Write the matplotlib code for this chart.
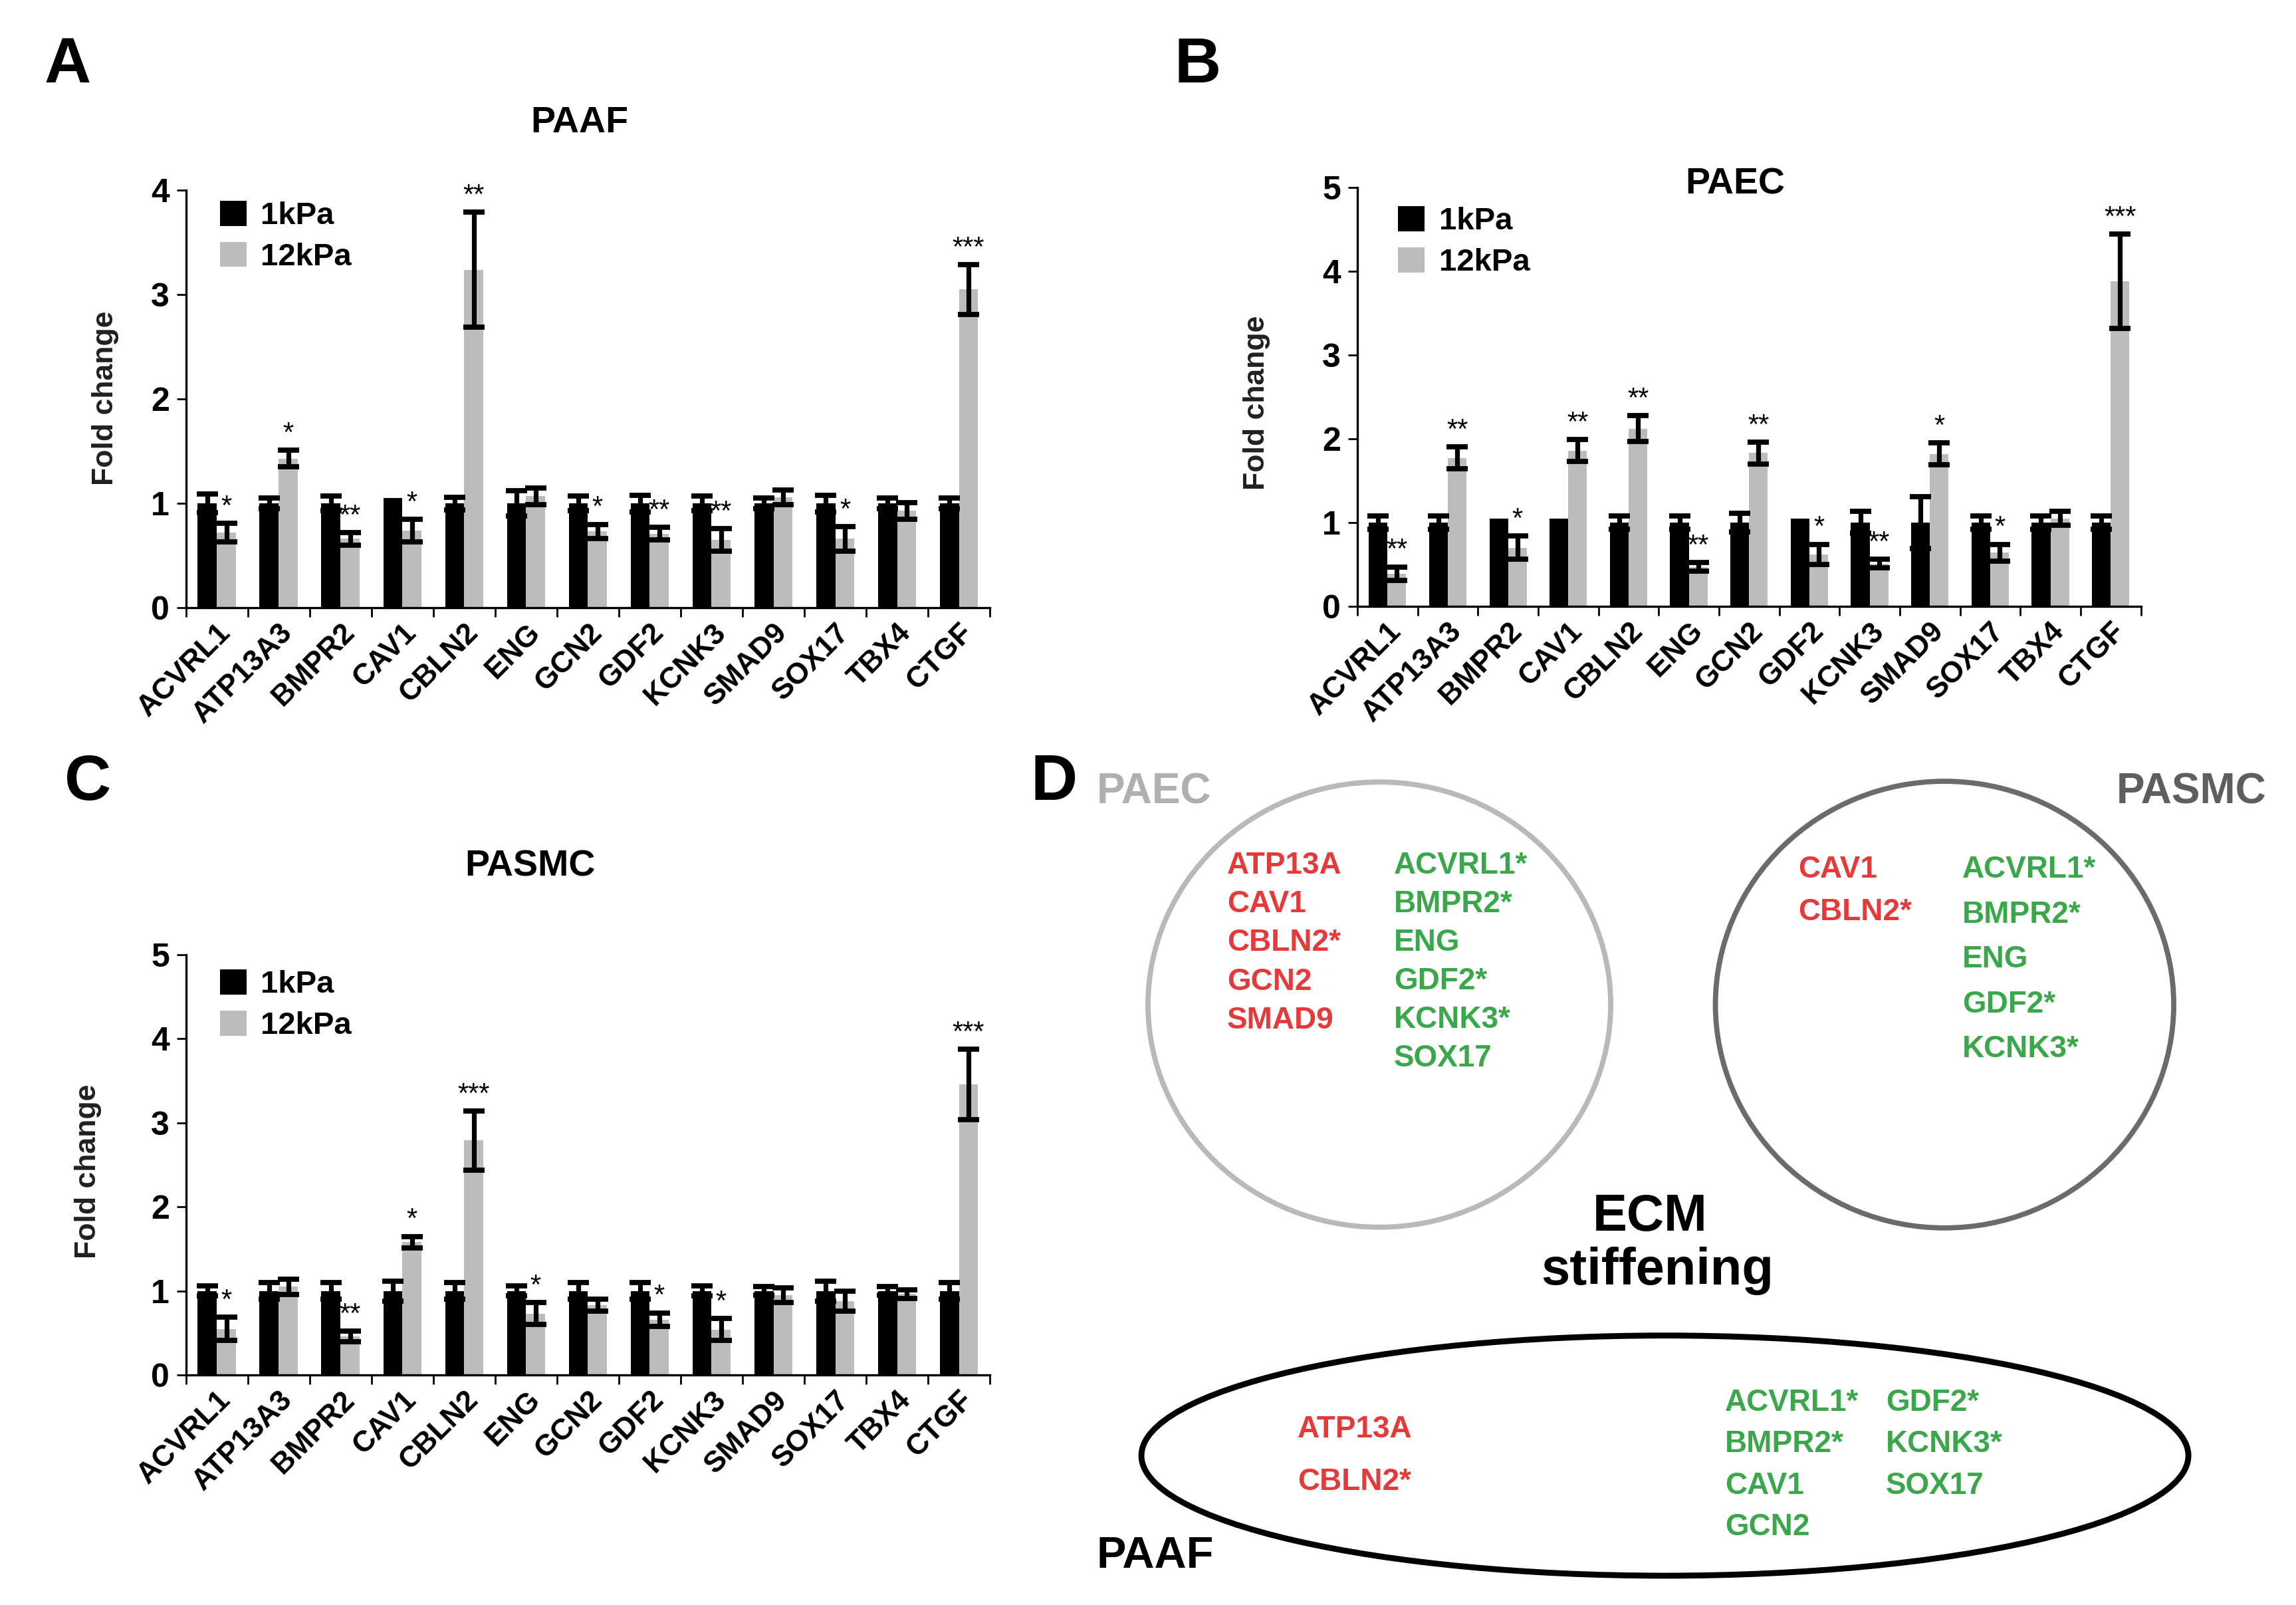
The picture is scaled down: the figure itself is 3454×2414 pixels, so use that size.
import numpy as np
import matplotlib
matplotlib.use('Agg')
import matplotlib.pyplot as plt
from matplotlib.patches import Ellipse, Patch

# ---------------- data ----------------
genes = ['ACVRL1', 'ATP13A3', 'BMPR2', 'CAV1', 'CBLN2', 'ENG', 'GCN2',
         'GDF2', 'KCNK3', 'SMAD9', 'SOX17', 'TBX4', 'CTGF']
series_names = ['1kPa', '12kPa']

paaf_1k = [1.0, 1.0, 1.0, 1.05, 1.0, 1.0, 1.0, 1.0, 1.0, 1.0, 1.0, 1.0, 1.0]
paaf_1k_err = [0.09, 0.05, 0.07, 0.0, 0.06, 0.12, 0.07, 0.08, 0.07, 0.05, 0.08, 0.05, 0.05]
paaf_12k = [0.72, 1.43, 0.66, 0.74, 3.24, 1.07, 0.73, 0.71, 0.65, 1.06, 0.66, 0.93, 3.05]
paaf_12k_err = [0.09, 0.08, 0.06, 0.11, 0.55, 0.08, 0.07, 0.06, 0.11, 0.07, 0.12, 0.08, 0.24]
paaf_sig = ['*', '*', '**', '*', '**', '', '*', '**', '**', '', '*', '', '***']

paec_1k = [1.0, 1.0, 1.05, 1.05, 1.0, 1.0, 1.0, 1.05, 1.0, 1.0, 1.0, 1.0, 1.0]
paec_1k_err = [0.08, 0.08, 0.0, 0.0, 0.08, 0.08, 0.11, 0.0, 0.13, 0.31, 0.08, 0.08, 0.08]
paec_12k = [0.39, 1.77, 0.70, 1.86, 2.12, 0.47, 1.83, 0.62, 0.51, 1.82, 0.64, 1.05, 3.88]
paec_12k_err = [0.08, 0.13, 0.14, 0.13, 0.155, 0.05, 0.13, 0.12, 0.05, 0.13, 0.10, 0.085, 0.56]
paec_sig = ['**', '**', '*', '**', '**', '**', '**', '*', '**', '*', '*', '', '***']

pasmc_1k = [1.0, 1.0, 1.0, 1.0, 1.0, 1.0, 1.0, 1.0, 1.0, 1.0, 1.0, 1.0, 1.0]
pasmc_1k_err = [0.06, 0.10, 0.10, 0.12, 0.10, 0.06, 0.10, 0.10, 0.06, 0.05, 0.12, 0.05, 0.10]
pasmc_12k = [0.55, 1.05, 0.46, 1.58, 2.79, 0.73, 0.83, 0.66, 0.54, 0.95, 0.88, 0.965, 3.46]
pasmc_12k_err = [0.14, 0.09, 0.065, 0.07, 0.35, 0.13, 0.07, 0.08, 0.13, 0.09, 0.12, 0.05, 0.42]
pasmc_sig = ['*', '', '**', '*', '***', '*', '', '*', '*', '', '', '', '***']

# panel D gene lists
paec_up = ['ATP13A', 'CAV1', 'CBLN2*', 'GCN2', 'SMAD9']
paec_down = ['ACVRL1*', 'BMPR2*', 'ENG', 'GDF2*', 'KCNK3*', 'SOX17']
pasmc_up = ['CAV1', 'CBLN2*']
pasmc_down = ['ACVRL1*', 'BMPR2*', 'ENG', 'GDF2*', 'KCNK3*']
paaf_up = ['ATP13A', 'CBLN2*']
paaf_down_a = ['ACVRL1*', 'BMPR2*', 'CAV1', 'GCN2']
paaf_down_b = ['GDF2*', 'KCNK3*', 'SOX17']

# ---------------- style ----------------
W, H, DPI = 3454, 2414, 200
SANS = ['Liberation Sans', 'DejaVu Sans']
NARROW = ['Liberation Sans Narrow', 'Liberation Sans', 'DejaVu Sans']
plt.rcParams['font.family'] = SANS
C_DARK = '#000000'
C_LIGHT = '#bcbcbc'
C_RED = '#e53a3a'
C_GREEN = '#3aa84a'

fig = plt.figure(figsize=(W / DPI, H / DPI), dpi=DPI)
RW, RH = 1568.0, 1096.0  # reference layout frame


def rect(left, top, right, bottom):
    return [left / RW, 1 - bottom / RH, (right - left) / RW, (bottom - top) / RH]


def bar_panel(r, ymax, v1, e1, v2, e2, sig, leg_anchor):
    ax = fig.add_axes(r)
    x = np.arange(len(genes))
    w = 0.31
    v1 = np.asarray(v1); e1 = np.asarray(e1)
    v2 = np.asarray(v2); e2 = np.asarray(e2)
    ax.bar(x - w / 2, v1, w, color=C_DARK, zorder=2)
    ax.bar(x + w / 2, v2, w, color=C_LIGHT, zorder=2)
    m1 = e1 > 0
    ax.errorbar((x - w / 2)[m1], v1[m1], yerr=e1[m1], fmt='none', ecolor='black',
                elinewidth=2.6, capsize=5.6, capthick=2.8, zorder=3)
    ax.errorbar(x + w / 2, v2, yerr=e2, fmt='none', ecolor='black',
                elinewidth=2.6, capsize=5.6, capthick=2.8, zorder=3)
    for xi, top, s in zip(x, v2 + e2, sig):
        if s:
            ax.annotate(s, (xi + w / 2, top), xytext=(0, 1.5), textcoords='offset points',
                        ha='center', va='bottom', fontsize=15, family=SANS, zorder=4)
    ax.set_xlim(-0.5, len(genes) - 0.5)
    ax.set_ylim(0, ymax)
    ax.set_yticks(np.arange(0, ymax + 1, 1))
    ax.set_yticklabels([str(t) for t in range(0, ymax + 1)], fontsize=18,
                       fontweight='bold', family=NARROW)
    ax.set_xticks(x)
    ax.set_xticklabels(genes, rotation=45, ha='right', va='top', rotation_mode='anchor',
                       fontsize=16, fontweight='bold', family=SANS)
    ax.set_xticks(np.arange(-0.5, len(genes), 1), minor=True)
    ax.tick_params(axis='x', which='major', length=0, pad=6)
    ax.tick_params(axis='x', which='minor', length=5, width=1, direction='out')
    ax.tick_params(axis='y', length=5, width=1, direction='out', pad=4)
    for sp in ['top', 'right']:
        ax.spines[sp].set_visible(False)
    for sp in ['left', 'bottom']:
        ax.spines[sp].set_linewidth(1.2)
    handles = [Patch(facecolor=C_DARK), Patch(facecolor=C_LIGHT)]
    ax.legend(handles, series_names, loc='upper left', bbox_to_anchor=leg_anchor,
              frameon=False, borderpad=0, borderaxespad=0, handlelength=0.85,
              handleheight=0.85, handletextpad=0.45, labelspacing=0.35,
              prop={'family': NARROW, 'weight': 'bold', 'size': 17})
    ax.patch.set_alpha(0)
    return ax


bar_panel(rect(127, 130, 676, 415), 4, paaf_1k, paaf_1k_err, paaf_12k, paaf_12k_err,
          paaf_sig, (0.042, 0.975))
bar_panel(rect(927, 128, 1462, 414), 5, paec_1k, paec_1k_err, paec_12k, paec_12k_err,
          paec_sig, (0.052, 0.955))
bar_panel(rect(127, 652, 676, 939), 5, pasmc_1k, pasmc_1k_err, pasmc_12k, pasmc_12k_err,
          pasmc_sig, (0.042, 0.965))

# ---------------- overlay (labels, titles, panel D) ----------------
ov = fig.add_axes([0, 0, 1, 1])
ov.set_xlim(0, RW)
ov.set_ylim(RH, 0)
ov.axis('off')
ov.patch.set_alpha(0)

for lab, (px, py) in zip(['A', 'B', 'C', 'D'], [(46, 45), (818, 45), (60, 535), (720, 535)]):
    ov.text(px, py, lab, fontsize=35, fontweight='bold', ha='center', va='center')

for t, (px, py) in zip(['PAAF', 'PAEC', 'PASMC'], [(396, 84), (1185, 126), (362, 592)]):
    ov.text(px, py, t, fontsize=20, fontweight='bold', ha='center', va='center',
            family=NARROW)

for (px, py) in [(72, 272), (858, 275), (60, 800)]:
    ov.text(px, py, 'Fold change', fontsize=16, fontweight='bold', rotation=90,
            ha='center', va='center', color='#202020')

# Panel D shapes
ov.add_patch(Ellipse((942, 686), 316, 304, fill=False, ec='#b9b9b9', lw=2.8))
ov.add_patch(Ellipse((1328, 686), 313, 305, fill=False, ec='#6b6b6b', lw=2.8))
ov.add_patch(Ellipse((1137, 994), 715, 164, fill=False, ec='#000000', lw=3.2))

ov.text(749, 541, 'PAEC', fontsize=23, fontweight='bold', color='#b0b0b0',
        ha='left', va='center', family=NARROW)
ov.text(1548, 541, 'PASMC', fontsize=23, fontweight='bold', color='#5e5e5e',
        ha='right', va='center', family=NARROW)
ov.text(749, 1063, 'PAAF', fontsize=24, fontweight='bold', color='#000000',
        ha='left', va='center', family=NARROW)
ov.text(1127, 831, 'ECM', fontsize=28, fontweight='bold', ha='center', va='center',
        family=NARROW)
ov.text(1132, 868, 'stiffening', fontsize=28, fontweight='bold', ha='center',
        va='center', family=NARROW)


def gene_col(items, x0, y0, dy, color):
    for i, g in enumerate(items):
        ov.text(x0, y0 + i * dy, g, fontsize=16.5, fontweight='bold', color=color,
                ha='left', va='center', family=NARROW)


gene_col(paec_up, 838, 591, 26.5, C_RED)
gene_col(paec_down, 952, 591, 26.4, C_GREEN)
gene_col(pasmc_up, 1228, 594, 29, C_RED)
gene_col(pasmc_down, 1340, 594, 30.6, C_GREEN)
gene_col(paaf_up, 886, 976, 36, C_RED)
gene_col(paaf_down_a, 1178, 958, 28.3, C_GREEN)
gene_col(paaf_down_b, 1288, 958, 28.3, C_GREEN)

fig.savefig('out.png', dpi=DPI, facecolor='white')
